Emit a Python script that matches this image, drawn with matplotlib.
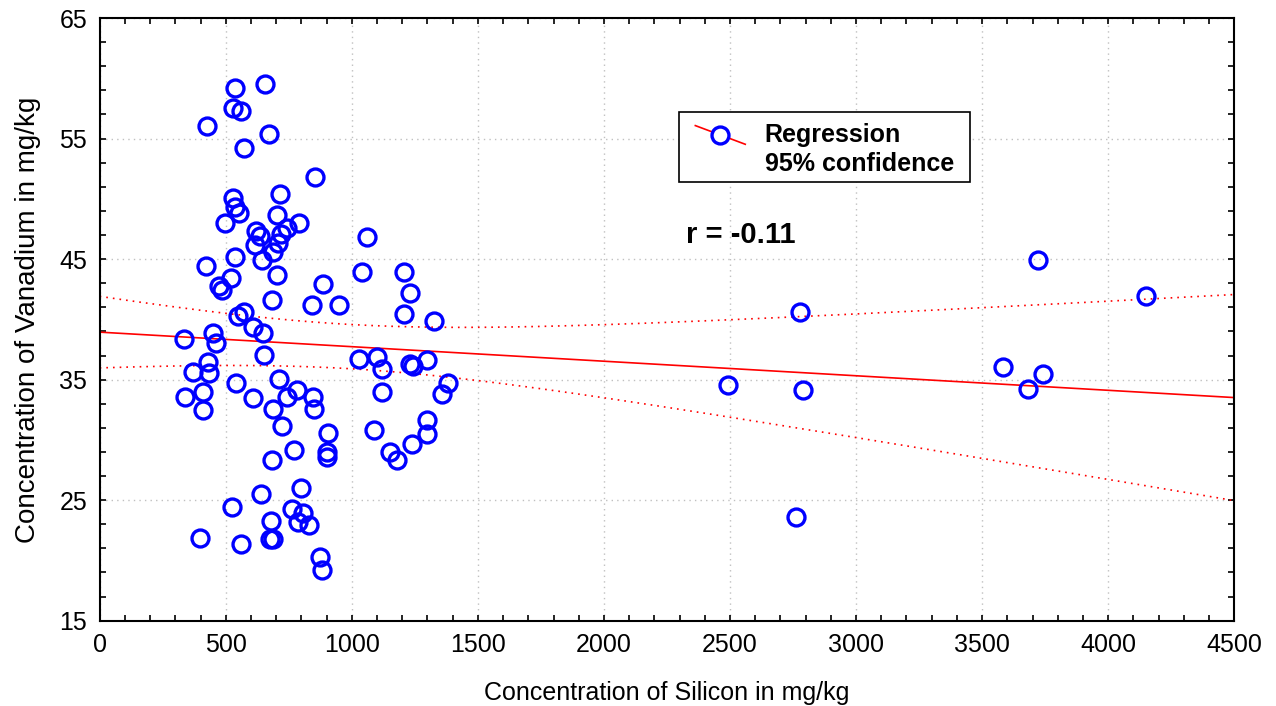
import numpy as np
import matplotlib
matplotlib.use("Agg")
import matplotlib.pyplot as plt
from matplotlib.ticker import FixedLocator, MultipleLocator
from matplotlib.lines import Line2D
from matplotlib.patches import Rectangle

# ---- data ----
silicon = [537, 656, 530, 560, 427, 673, 573, 853, 528, 715,
           537, 554, 496, 702, 792, 620, 636, 744, 719, 709,
           617, 689, 643, 1060, 422, 537, 520, 475, 485, 702,
           885, 1040, 1209, 1229, 683, 844, 948, 550, 573, 610,
           649, 335, 448, 462, 652, 429, 371, 434, 541, 710,
           782, 742, 848, 339, 411, 411, 607, 687, 850, 722,
           906, 901, 901, 771, 683, 1030, 1099, 1119, 1119, 1089,
           1151, 1179, 1229, 1242, 1300, 1381, 1359, 1299, 1299, 1239,
           1209, 1328, 798, 639, 525, 762, 808, 788, 832, 680,
           676, 689, 398, 561, 874, 883,
           2779, 2492, 2790, 2762, 3720, 4151, 3582, 3740, 3681]
vanadium = [59.2, 59.5, 57.5, 57.3, 56.0, 55.35, 54.2, 51.8, 50.1, 50.4,
            49.3, 48.85, 48.0, 48.65, 48.0, 47.35, 46.9, 47.6, 47.1, 46.3,
            46.2, 45.6, 44.9, 46.8, 44.45, 45.15, 43.45, 42.8, 42.45, 43.7,
            42.95, 43.95, 43.95, 42.15, 41.6, 41.2, 41.15, 40.3, 40.65, 39.4,
            38.9, 38.4, 38.9, 38.05, 37.05, 36.5, 35.65, 35.55, 34.7, 35.05,
            34.15, 33.55, 33.55, 33.55, 33.95, 32.5, 33.45, 32.6, 32.6, 31.15,
            30.55, 29.0, 28.6, 29.2, 28.35, 36.7, 36.9, 35.85, 33.95, 30.85,
            29.0, 28.35, 36.3, 36.15, 36.6, 34.7, 33.8, 31.65, 30.5, 29.65,
            40.45, 39.9, 26.05, 25.55, 24.45, 24.25, 23.95, 23.2, 22.9, 23.25,
            21.75, 21.75, 21.85, 21.35, 20.25, 19.2,
            40.65, 34.55, 34.15, 23.6, 44.9, 41.95, 36.05, 35.5, 34.2]

x_major = [0, 500, 1000, 1500, 2000, 2500, 3000, 3500, 4000, 4500]
y_major = [15, 25, 35, 45, 55, 65]
legend_lines = ["Regression", "95% confidence"]
r_text = "r = -0.11"
x_label = "Concentration of Silicon in mg/kg"
y_label = "Concentration of Vanadium in mg/kg"

plt.rcParams['font.family'] = ['Liberation Sans', 'DejaVu Sans']

x = np.array(silicon, dtype=float)
y = np.array(vanadium, dtype=float)

fig = plt.figure(figsize=(12.76, 7.06), dpi=100)
ax = fig.add_axes([0.0781, 0.1208, 0.8892, 0.8537])

# regression + 95% confidence band
slope, intercept = np.polyfit(x, y, 1)
xs = np.linspace(0, 4500, 300)
yhat = intercept + slope * xs
n = len(x)
resid = y - (intercept + slope * x)
s = np.sqrt(np.sum(resid ** 2) / (n - 2))
sxx = np.sum((x - x.mean()) ** 2)
tval = 1.983
half = tval * s * np.sqrt(1.0 / n + (xs - x.mean()) ** 2 / sxx)

ax.plot(xs, yhat, color='red', lw=1.2, zorder=2)
ax.plot(xs, yhat + half, color='red', lw=1.2, ls=(0, (1, 3)), zorder=2)
ax.plot(xs, yhat - half, color='red', lw=1.2, ls=(0, (1, 3)), zorder=2)

ax.plot(x, y, ls='none', marker='o', ms=12.2, mfc='none', mec='#0000ff',
        mew=2.4, zorder=3)

ax.set_xlim(0, 4500)
ax.set_ylim(15, 65)
ax.xaxis.set_major_locator(FixedLocator(x_major))
ax.yaxis.set_major_locator(FixedLocator(y_major))
ax.xaxis.set_minor_locator(MultipleLocator(100))
ax.yaxis.set_minor_locator(FixedLocator(np.arange(15, 66, 2)))
ax.tick_params(which='both', direction='in', top=True, right=True,
               length=4, width=1.2, color='black')
ax.tick_params(axis='both', which='major', labelsize=18)
ax.tick_params(axis='x', which='major', pad=9)
ax.tick_params(axis='y', which='major', pad=9)
for sp in ax.spines.values():
    sp.set_linewidth(1.5)
ax.grid(True, which='major', color='#c0c0c0', ls=(0, (1, 3)), lw=1.0)
ax.set_axisbelow(True)

ax.set_xlabel(x_label, fontsize=18, labelpad=17)
ax.set_ylabel(y_label, fontsize=20, labelpad=13)

# r annotation
ax.text(0.517, 0.64, r_text, transform=ax.transAxes, fontsize=21,
        fontweight='bold', ha='left', va='center')

# legend (drawn manually)
lx0, ly0, lx1, ly1 = 0.5106, 0.728, 0.767, 0.844
ax.add_patch(Rectangle((lx0, ly0), lx1 - lx0, ly1 - ly0, transform=ax.transAxes,
                       facecolor='white', edgecolor='black', lw=1.2, zorder=5))
ax.add_line(Line2D([0.525, 0.569], [0.8215, 0.7905], transform=ax.transAxes,
                   color='red', lw=1.2, zorder=6))
ax.add_line(Line2D([0.547], [0.806], transform=ax.transAxes, marker='o',
                   ms=12.2, mfc='white', mec='#0000ff', mew=2.4, zorder=7))
ax.text(0.586, 0.806, legend_lines[0], transform=ax.transAxes, fontsize=18,
        fontweight='bold', ha='left', va='center', zorder=7)
ax.text(0.586, 0.757, legend_lines[1], transform=ax.transAxes, fontsize=18,
        fontweight='bold', ha='left', va='center', zorder=7)

fig.savefig("out.png", dpi=100)
